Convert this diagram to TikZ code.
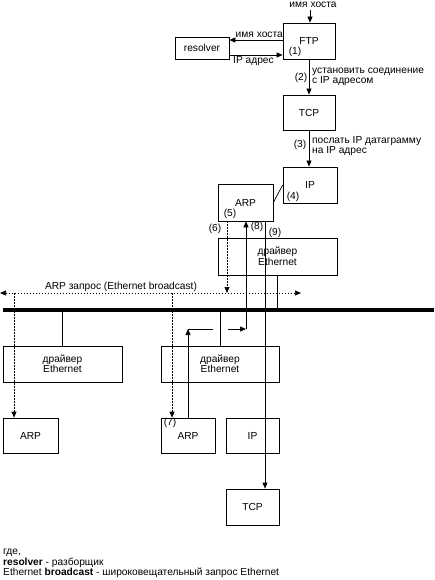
\documentclass[tikz,border=0pt]{standalone}
\usepackage{fontspec}
\setmainfont{Liberation Sans}
\usetikzlibrary{arrows.meta}
\begin{document}
\begin{tikzpicture}[x=1pt,y=-1pt,
  every node/.style={font=\fontsize{10.2}{10.5}\selectfont, inner sep=0pt},
  box/.style={draw, line width=0.7pt, minimum width=#1, align=center},
  box/.default=54pt,
  conn/.style={line width=0.7pt},
  arr/.style={conn, -{Triangle[length=6pt,width=5pt]}},
  dline/.style={line width=0.7pt, dash pattern=on 1.5pt off 1.5pt},
  lbl/.style={align=left}]
\useasboundingbox (0,0) rectangle (434,580);

% boxes
\node[box=52pt, minimum height=36pt] (ftp) at (309,41) {FTP};
\node[box=54pt, minimum height=22pt] (resolver) at (202,48) {resolver};
\node[box=52pt, minimum height=35pt] (tcp1) at (309,112.5) {TCP};
\node[box=54pt, minimum height=36pt] (ip1) at (310,185) {IP};
\node[box=55pt, minimum height=37pt] (arp1) at (245.5,202.5) {ARP};
\node[box=119pt, minimum height=37pt, text width=48pt] (drv1) at (277.5,256.5) {драйвер\\Ethernet};
\node[box=119pt, minimum height=36pt] (drvL) at (62.5,364) {драйвер\\Ethernet};
\node[box=118pt, minimum height=36pt] (drvM) at (220,364) {драйвер\\Ethernet};
\node[box=55pt, minimum height=35pt] (arpL) at (30.5,435.5) {ARP};
\node[box=54pt, minimum height=35pt] (arpM) at (188,435.5) {ARP};
\node[box=53pt, minimum height=35pt] (ipM) at (252.5,435.5) {IP};
\node[box=53pt, minimum height=36pt] (tcpB) at (252.5,507) {TCP};

% top input
\coordinate (top) at (310,10);
\node[anchor=north] (hname) at (313,2) {имя хоста};
\draw[arr] (top) -- (top |- ftp.north);

% FTP <-> resolver
\path ([yshift=1pt]ftp.west) coordinate (f1);
\draw[arr] (f1) -- (f1 -| resolver.east);
\path ([yshift=-7pt]resolver.east) coordinate (r1);
\draw[arr] (r1) -- (r1 -| ftp.west);
\node[anchor=south east] (l1) at (283,38) {имя хоста};
\node[anchor=north west] (l2) at (233,56.5) {IP адрес};
\node (n1) at (295,52) {(1)};

% FTP -> TCP -> IP
\draw[arr] (ftp.south) -- (tcp1.north);
\node (n2) at (301,78) {(2)};
\node[lbl, anchor=west] (l3) at (312,77) {установить соединение\\с IP адресом};
\draw[arr] (tcp1.south) -- (tcp1.south |- ip1.north);
\node (n3) at (300,145) {(3)};
\node[lbl, anchor=west] (l4) at (312,146) {послать IP датаграмму\\на IP адрес};
\node (n4) at (293,197) {(4)};
\draw[conn] (arp1.east) -- (ip1.west);

% labels near ARP
\node (n5) at (230,214) {(5)};
\node (n6) at (215,229) {(6)};
\node (n8) at (257,227) {(8)};
\node (n9) at (275,233) {(9)};

% broadcast
\coordinate (bcL) at (0,293);
\coordinate (bcR) at (301,293);
\draw[dline, {Triangle[length=6pt,width=5pt]}-{Triangle[length=6pt,width=5pt]}] (bcL) -- (bcR);
\node (bcl) at (121,287) {ARP запрос (Ethernet broadcast)};

% ARP request down
\coordinate (a5) at (227,221);
\draw[dline, -{Triangle[length=6pt,width=5pt]}] (a5) -- (a5 |- bcL);

% Ethernet bus
\coordinate (busL) at (3,310);
\coordinate (busR) at (434,310);
\draw[line width=3.2pt] (busL) -- (busR);

% drivers to bus
\draw[conn] (drv1.south) -- (drv1.south |- busL);
\draw[conn] (drvL.north) -- (drvL.north |- busL);
\draw[conn] (drvM.north) -- (drvM.north |- busL);

% broadcast received
\coordinate (dL) at (14,293);
\coordinate (dM) at (172,293);
\draw[dline, -{Triangle[length=6pt,width=5pt]}] (dL) -- (dL |- arpL.north);
\draw[dline, -{Triangle[length=6pt,width=5pt]}] (dM) -- (dM |- arpM.north);
\node (n7) at (170,423) {(7)};

% ARP reply
\coordinate (c1) at (188,329);
\coordinate (c2) at (213,329);
\coordinate (c3) at (228,329);
\coordinate (c4) at (246,329);
\draw[arr] (arpM.north) -- (c1);
\draw[conn] (c1) -- (c2);
\draw[arr] (c3) -- (c4);
\draw[arr] (c4) -- (c4 |- arp1.south);

% IP datagram path (9)
\coordinate (c9) at (265,0);
\draw[arr] (c9 |- arp1.south) -- (c9 |- tcpB.north);

% legend
\node[anchor=west] (g1) at (3,553) {где,};
\node[anchor=west] (g2) at (3,563) {\textbf{resolver} - разборщик};
\node[anchor=west] (g3) at (3,573) {Ethernet \textbf{broadcast} - широковещательный запрос Ethernet};
\end{tikzpicture}
\end{document}
